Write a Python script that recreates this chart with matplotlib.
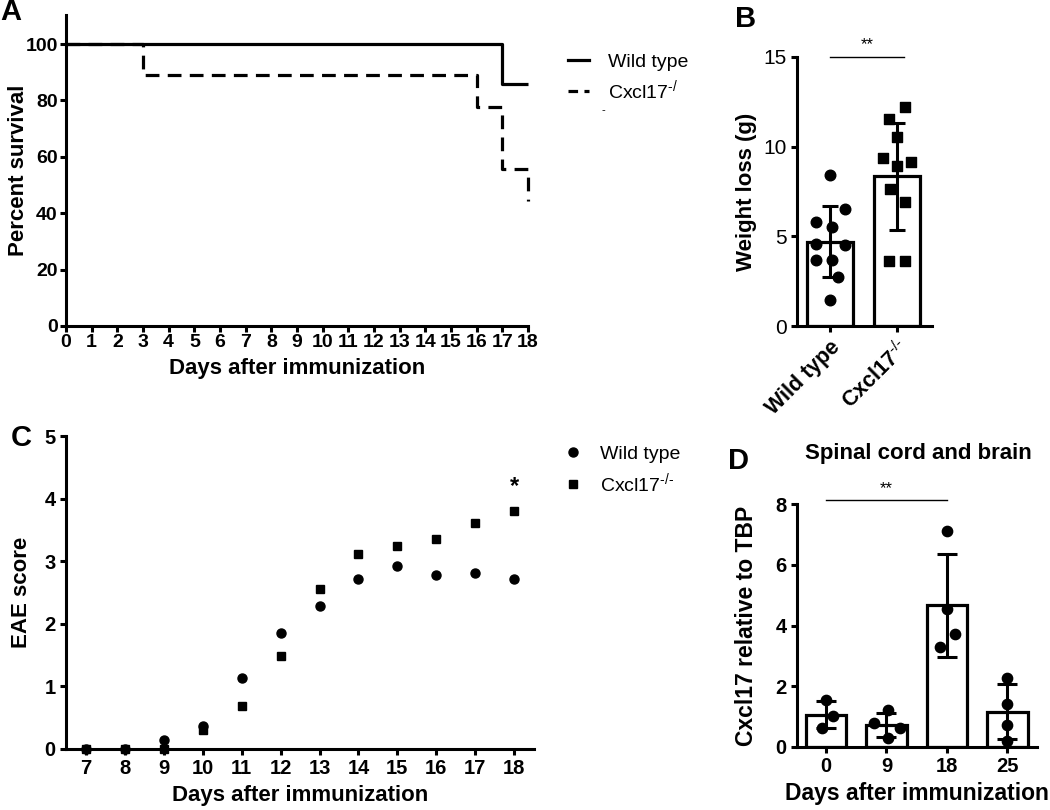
import numpy as np
import matplotlib
matplotlib.use('Agg')
import matplotlib.pyplot as plt
from matplotlib.lines import Line2D

plt.rcParams['font.family'] = ['Liberation Sans', 'DejaVu Sans']
plt.rcParams['mathtext.fontset'] = 'custom'
plt.rcParams['mathtext.rm'] = 'Liberation Sans'
plt.rcParams['mathtext.it'] = 'Liberation Sans:italic'
plt.rcParams['mathtext.bf'] = 'Liberation Sans:bold'
plt.rcParams['axes.linewidth'] = 2.2
plt.rcParams['xtick.major.width'] = 2.2
plt.rcParams['ytick.major.width'] = 2.2
plt.rcParams['xtick.major.size'] = 4
plt.rcParams['ytick.major.size'] = 4

# --- data ---
# A: survival
wt_days = [0, 17, 18]
wt_surv = [100, 85.7, 85.7]
ko_days = [0, 3, 16, 17, 18]
ko_surv = [100, 88.9, 77.8, 55.6, 44.4]

# B: weight loss
groups_b = ['Wild type', r'Cxcl17$^{\text{-/-}}$']
wt_weight = [8.4, 6.5, 5.8, 5.5, 4.6, 4.5, 3.7, 3.7, 2.75, 1.45]
ko_weight = [12.2, 11.55, 10.55, 9.35, 9.15, 8.9, 7.65, 6.9, 3.6, 3.6]

# C: EAE score
eae_days = [7, 8, 9, 10, 11, 12, 13, 14, 15, 16, 17, 18]
wt_eae = [0, 0, 0.15, 0.37, 1.13, 1.85, 2.28, 2.71, 2.92, 2.78, 2.81, 2.71]
ko_eae = [0, 0, 0, 0.30, 0.69, 1.49, 2.56, 3.12, 3.24, 3.36, 3.61, 3.80]

# D: Cxcl17 expression
d_days = ['0', '9', '18', '25']
d_points = [[1.54, 1.01, 0.64],
            [1.21, 0.79, 0.61, 0.28],
            [7.1, 4.53, 3.72, 3.3],
            [2.28, 1.43, 0.72, 0.2]]

# point scatter offsets (layout only)
wt_jit = [0, 0.225, -0.21, 0.025, -0.21, 0.225, -0.2, 0.025, 0.125, 0]
ko_jit = [0.125, -0.125, 0, -0.215, 0.21, 0, -0.11, 0.125, -0.125, 0.125]
d_jit = [[0, 0.11, -0.07], [0.03, -0.21, 0.22, 0.03], [0, 0, 0.13, -0.12], [0, 0, 0, 0]]

W, H = 1050, 810
fig = plt.figure(figsize=(W / 100, H / 100), dpi=100)

def box(l, r, t, b):
    return [l / W, 1 - b / H, (r - l) / W, (b - t) / H]

def clean(ax):
    ax.spines['top'].set_visible(False)
    ax.spines['right'].set_visible(False)

def bold_ticks(ax):
    for lab in ax.get_xticklabels() + ax.get_yticklabels():
        lab.set_fontweight('bold')

# ---------- A ----------
axA = fig.add_axes(box(66, 528, 15, 326))
clean(axA)
axA.plot(wt_days, wt_surv, drawstyle='steps-post', color='black', lw=2.3,
         clip_on=False, solid_capstyle='butt')
axA.plot(ko_days, ko_surv, drawstyle='steps-post', color='black', lw=2.3,
         ls=(0, (4.3, 2.6)), clip_on=False)
axA.set_xlim(0, 18)
axA.set_ylim(0, 110.3)
axA.set_xticks(range(0, 19))
axA.set_yticks(range(0, 101, 20))
axA.tick_params(labelsize=14, pad=2)
bold_ticks(axA)
axA.set_xlabel('Days after immunization', fontsize=16, fontweight='bold', labelpad=5)
axA.set_ylabel('Percent survival', fontsize=16, fontweight='bold')
axA.yaxis.set_label_coords(-0.081, 0.5)

hA = [Line2D([], [], color='black', lw=2.3),
      Line2D([], [], color='black', lw=2.3, ls=(0, (3, 2)))]
fig.legend(hA, ['Wild type', r'Cxcl17$^{\text{-/}}$'], loc='upper left',
           bbox_to_anchor=(550 / W, 1 - 36 / H), frameon=False, fontsize=14,
           handlelength=1.1, handletextpad=1.0, labelspacing=0.35)
fig.text(603 / W, 1 - 110 / H, '-', fontsize=8, ha='center', va='center')

# ---------- B ----------
axB = fig.add_axes(box(797, 932, 57, 326))
clean(axB)
xb = np.arange(2)
for i, (vals, jit, mk) in enumerate([(wt_weight, wt_jit, 'o'), (ko_weight, ko_jit, 's')]):
    v = np.array(vals)
    axB.bar(xb[i], v.mean(), width=0.69, color='white', edgecolor='black', lw=2.3, zorder=1)
    axB.errorbar(xb[i], v.mean(), yerr=v.std(ddof=1), color='black', lw=2.2,
                 capsize=6, capthick=2.2, zorder=2)
    axB.scatter(xb[i] + np.array(jit), v, marker=mk, s=58, color='black', zorder=3,
                clip_on=False)
axB.set_xlim(-0.49, 1.52)
axB.set_ylim(0, 15)
axB.set_yticks([0, 5, 10, 15])
axB.set_xticks(xb)
axB.set_xticklabels(groups_b, rotation=45, ha='right', rotation_mode='anchor',
                    fontsize=15.5, fontweight='bold')
axB.tick_params(axis='y', labelsize=15)
axB.set_ylabel('Weight loss (g)', fontsize=16, fontweight='bold')
axB.yaxis.set_label_coords(-0.296, 0.5)
axB.plot([0, 1.1], [15, 15], color='black', lw=1.0, clip_on=False)
axB.text(0.55, 15.25, '**', ha='center', va='bottom', fontsize=12)

# ---------- C ----------
axC = fig.add_axes(box(66, 534, 436, 749))
clean(axC)
axC.plot(eae_days, wt_eae, 'o', color='black', ms=6.5, clip_on=False, label='Wild type')
axC.plot(eae_days, ko_eae, 's', color='black', ms=6.3, clip_on=False,
         label=r'Cxcl17$^{\text{-/-}}$')
axC.set_xlim(6.486, 18.51)
axC.set_ylim(0, 5)
axC.set_xticks(eae_days)
axC.set_yticks(range(0, 6))
axC.tick_params(labelsize=14.5)
bold_ticks(axC)
axC.set_xlabel('Days after immunization', fontsize=16, fontweight='bold', labelpad=5)
axC.set_ylabel('EAE score', fontsize=16, fontweight='bold')
axC.yaxis.set_label_coords(-0.073, 0.5)
axC.text(18, 4.2, '*', ha='center', va='center', fontsize=17, fontweight='bold')
fig.legend(*axC.get_legend_handles_labels(), loc='upper left',
           bbox_to_anchor=(548 / W, 1 - 428 / H), frameon=False, fontsize=14,
           handlelength=0.8, handletextpad=1.0, labelspacing=0.4)

# ---------- D ----------
axD = fig.add_axes(box(797, 1037, 504, 747))
clean(axD)
xd = np.arange(len(d_days))
for i, (vals, jit) in enumerate(zip(d_points, d_jit)):
    v = np.array(vals)
    axD.bar(xd[i], v.mean(), width=0.67, color='white', edgecolor='black', lw=2.3, zorder=1)
    axD.errorbar(xd[i], v.mean(), yerr=v.std(ddof=1), color='black', lw=2.2,
                 capsize=7, capthick=2.2, zorder=2)
    axD.scatter(xd[i] + np.array(jit), v, marker='o', s=55, color='black', zorder=3,
                clip_on=False)
axD.set_xlim(-0.48, 3.49)
axD.set_ylim(0, 8)
axD.set_yticks(range(0, 9, 2))
axD.set_xticks(xd)
axD.set_xticklabels(d_days)
axD.tick_params(labelsize=14.5)
bold_ticks(axD)
axD.set_xlabel('Days after immunization', fontsize=16.5, fontweight='bold', labelpad=4)
axD.set_ylabel('Cxcl17 relative to TBP', fontsize=16.5, fontweight='bold')
axD.yaxis.set_label_coords(-0.163, 0.5)
fig.text(918 / W, 1 - 453 / H, 'Spinal cord and brain', fontsize=16, fontweight='bold',
         ha='center', va='center')
axD.plot([0, 2], [8.12, 8.12], color='black', lw=1.0, clip_on=False)
axD.text(1, 8.25, '**', ha='center', va='bottom', fontsize=12)

# panel letters
for letter, x, y in [('A', 11, 12), ('B', 746, 19), ('C', 21, 438), ('D', 739, 461)]:
    fig.text(x / W, 1 - y / H, letter, fontsize=21, fontweight='bold',
             ha='center', va='center')

fig.savefig('out.png', dpi=100)
